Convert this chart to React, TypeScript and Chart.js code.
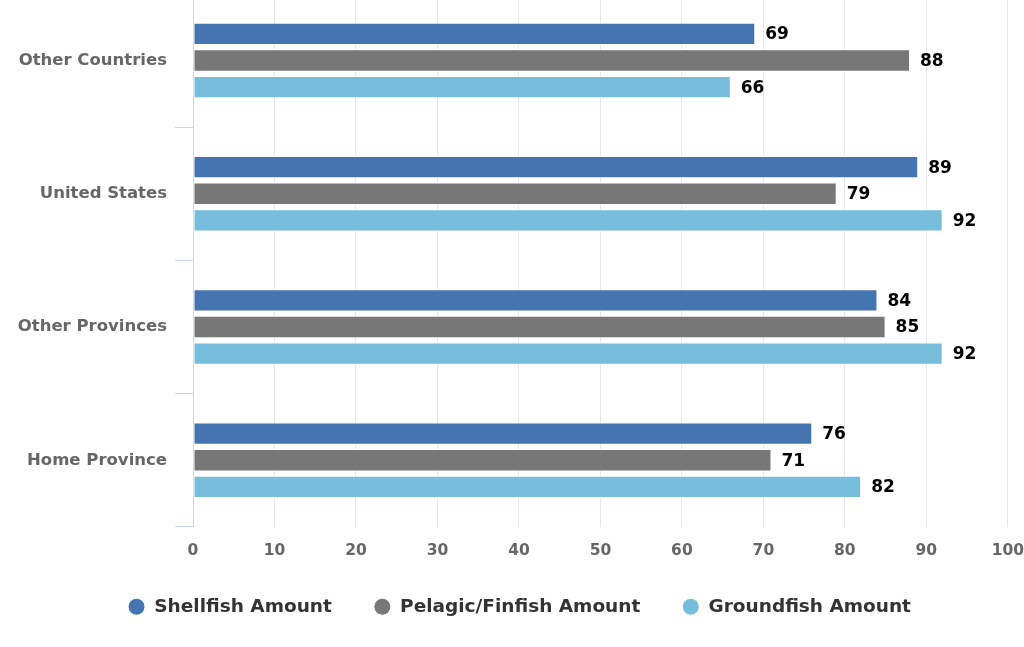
import React, { useEffect, useRef } from "react";
import { Chart, registerables } from "chart.js";

Chart.register(...registerables);

const categories = ["Other Countries", "United States", "Other Provinces", "Home Province"];
const seriesNames = ["Shellfish Amount", "Pelagic/Finfish Amount", "Groundfish Amount"];
const shellfish = [69, 89, 84, 76];
const pelagic = [88, 79, 85, 71];
const groundfish = [66, 92, 92, 82];
const xTicks = [0, 10, 20, 30, 40, 50, 60, 70, 80, 90, 100];
const colors = ["#4575b0", "#777777", "#76bddb"];

const FONT = "'DejaVu Sans', Verdana, sans-serif";

const valueLabels = {
  id: "valueLabels",
  afterDatasetsDraw(chart: any) {
    const ctx = chart.ctx;
    ctx.save();
    ctx.font = `bold 17px ${FONT}`;
    ctx.fillStyle = "#000000";
    ctx.textAlign = "left";
    ctx.textBaseline = "middle";
    chart.data.datasets.forEach((ds: any, i: number) => {
      const meta = chart.getDatasetMeta(i);
      meta.data.forEach((bar: any, j: number) => {
        ctx.fillText(String(ds.data[j]), bar.x + 10, bar.y + 1);
      });
    });
    ctx.restore();
  },
};

const W = 1039;
const H = 656;

export default function App() {
  const ref = useRef<HTMLCanvasElement>(null);
  useEffect(() => {
    if (!ref.current) return;
    const chart = new Chart(ref.current, {
      type: "bar",
      data: {
        labels: categories,
        datasets: [shellfish, pelagic, groundfish].map((d, i) => ({
          label: seriesNames[i],
          data: d,
          backgroundColor: colors[i],
          borderColor: "#ffffff",
          borderWidth: 1,
          borderSkipped: false,
          barPercentage: 0.84,
          categoryPercentage: 0.6,
        })),
      },
      options: {
        indexAxis: "y",
        animation: false,
        responsive: false,
        maintainAspectRatio: false,
        layout: { padding: { left: 0, right: 0, top: 0, bottom: 6 } },
        scales: {
          x: {
            min: 0,
            max: 100,
            afterBuildTicks: (s: any) => {
              s.ticks = xTicks.map((v) => ({ value: v }));
            },
            afterFit: (s: any) => {
              s.height = s.height - 20;
            },
            grid: { color: "#e6e6e6", drawTicks: false, lineWidth: 1 },
            border: { display: false },
            ticks: {
              color: "#666666",
              font: { family: FONT, size: 15.5, weight: "bold" },
              padding: 15,
            },
          },
          y: {
            afterFit: (s: any) => {
              s.width = 193;
            },
            grid: {
              offset: true,
              drawOnChartArea: false,
              color: "#ccd6eb",
              tickLength: 18,
            },
            border: { display: true, color: "#ccd6eb" },
            ticks: {
              color: "#666666",
              font: { family: FONT, size: 16.5, weight: "bold" },
              padding: 8,
            },
          },
        },
        plugins: {
          legend: {
            position: "bottom",
            labels: {
              usePointStyle: true,
              pointStyle: "circle",
              boxWidth: 12,
              boxHeight: 12,
              pointStyleWidth: 17,
              padding: 42,
              color: "#333333",
              font: { family: FONT, size: 18.5, weight: "bold" },
            },
          },
          tooltip: { enabled: false },
        },
      },
      plugins: [valueLabels],
    });
    return () => chart.destroy();
  }, []);
  return (
    <div style={{ position: "absolute", left: 0, top: 0, width: 1024, height: 647, overflow: "hidden" }}>
      <div style={{ position: "absolute", left: 0, top: -24, width: W, height: H }}>
        <canvas ref={ref} width={W} height={H} style={{ width: W, height: H }} />
      </div>
    </div>
  );
}
